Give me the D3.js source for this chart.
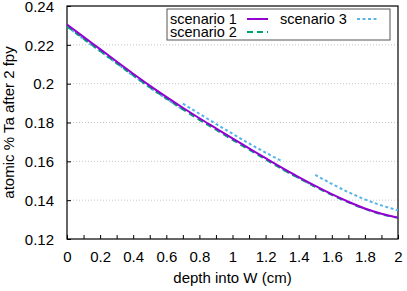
<!DOCTYPE html>
<html>
<head>
<meta charset="utf-8">
<script src="https://cdn.jsdelivr.net/npm/d3@7"></script>
<style>
  body { margin: 0; background: #fff; }
  text { font-family: "Liberation Sans", Arial, sans-serif; fill: #000; }
</style>
</head>
<body>
<svg width="407" height="291"></svg>
<script>
// depth into W (cm), sampled every 0.1
var depth = [0, 0.1, 0.2, 0.3, 0.4, 0.5, 0.6, 0.7, 0.8, 0.9, 1.0,
             1.1, 1.2, 1.3, 1.4, 1.5, 1.6, 1.7, 1.8, 1.9, 2.0];

var scenario1 = [0.2305, 0.2241, 0.2178, 0.2114, 0.2051, 0.1990, 0.1932, 0.1876, 0.1822, 0.1770, 0.1718,
                 0.1667, 0.1616, 0.1566, 0.1519, 0.1474, 0.1431, 0.1392, 0.1357, 0.1330, 0.1310];
var scenario2 = [0.2295, 0.2232, 0.2169, 0.2106, 0.2043, 0.1982, 0.1924, 0.1868, 0.1814, 0.1763, 0.1711,
                 0.1660, 0.1610, 0.1560, 0.1514, 0.1469, 0.1427, 0.1389, 0.1355, 0.1328, 0.1309];

// scenario 3 comes in separate pieces (null = break in the line)
var scenario3x = [0, 0.1, 0.2, 0.3, 0.4, 0.5, 0.6, 0.7, null,
                  0.7, 0.8, 0.9, 1.0, 1.1, 1.2, 1.3, null,
                  1.3, 1.4, 1.5, null,
                  1.5, 1.6, 1.7, 1.8, 1.9, 2.0];
var scenario3y = [0.2293, 0.2230, 0.2167, 0.2104, 0.2041, 0.1980, 0.1922, 0.1866, null,
                  0.1897, 0.1845, 0.1793, 0.1742, 0.1692, 0.1645, 0.1600, null,
                  0.1560, 0.1514, 0.1469, null,
                  0.1530, 0.1484, 0.1441, 0.1404, 0.1373, 0.1348];

var yTicks = [0.12, 0.14, 0.16, 0.18, 0.2, 0.22, 0.24];

var svg = d3.select("svg");
var mLeft = 67, mRight = 398, mTop = 6, mBottom = 239;

var x = d3.scaleLinear().domain([0, 2]).range([mLeft, mRight]);
var y = d3.scaleLinear().domain([0.12, 0.24]).range([mBottom, mTop]);

// horizontal grid
svg.selectAll(".grid")
  .data(yTicks.slice(1, -1))
  .enter().append("line")
    .attr("x1", mLeft).attr("x2", mRight)
    .attr("y1", function(d) { return y(d); })
    .attr("y2", function(d) { return y(d); })
    .style("stroke", "#c8c8c8")
    .style("stroke-width", 1)
    .style("stroke-dasharray", "1,2");

// bottom axis: ticks every 0.1, labels every 0.2
var xAxis = d3.axisBottom(x).tickValues(d3.range(0, 2.01, 0.1)).tickSize(-4)
  .tickFormat(function(d) {
    var r = Math.round(d * 10);
    return r % 2 === 0 ? d3.format("")(r / 10) : "";
  });
var gx = svg.append("g").attr("transform", "translate(0," + mBottom + ")").call(xAxis);
gx.select(".domain").remove();
gx.selectAll(".tick line").style("stroke", "#000");
gx.selectAll("text").attr("dy", "0").attr("y", 23).style("font-size", "15px")
  .style("font-family", "Liberation Sans, Arial, sans-serif");

var yAxis = d3.axisLeft(y).tickValues(yTicks).tickSize(-4)
  .tickFormat(d3.format(""));
var gy = svg.append("g").attr("transform", "translate(" + mLeft + ",0)").call(yAxis);
gy.select(".domain").remove();
gy.selectAll(".tick line").style("stroke", "#000");
gy.selectAll("text").attr("x", -13).attr("dy", "0.35em").style("font-size", "15px")
  .style("font-family", "Liberation Sans, Arial, sans-serif");

// frame
svg.append("rect")
  .attr("x", mLeft).attr("y", mTop)
  .attr("width", mRight - mLeft).attr("height", mBottom - mTop)
  .style("fill", "none").style("stroke", "#000").style("stroke-width", 1.2);

// curves
var line = d3.line()
  .defined(function(d) { return d[1] !== null; })
  .x(function(d) { return x(d[0]); })
  .y(function(d) { return y(d[1]); })
  .curve(d3.curveMonotoneX);

var series = [
  { name: "scenario 1", pts: d3.zip(depth, scenario1), color: "#9400d3", dash: null, w: 2 },
  { name: "scenario 2", pts: d3.zip(depth, scenario2), color: "#009e73", dash: "6,4", w: 2 },
  { name: "scenario 3", pts: d3.zip(scenario3x, scenario3y), color: "#56b4e9", dash: "3,2.5", w: 2 }
];

svg.selectAll(".curve")
  .data(series.slice().reverse())
  .enter().append("path")
    .attr("d", function(d) { return line(d.pts); })
    .style("fill", "none")
    .style("stroke", function(d) { return d.color; })
    .style("stroke-width", function(d) { return d.w; })
    .style("stroke-dasharray", function(d) { return d.dash; });

// legend
svg.append("rect")
  .attr("x", 167).attr("y", 9).attr("width", 223).attr("height", 31)
  .style("fill", "#fff").style("stroke", "#555").style("stroke-width", 1);

var legendPos = [
  { tx: 170, ly: 19, lx1: 247, lx2: 268 },
  { tx: 170, ly: 32, lx1: 247, lx2: 268 },
  { tx: 280, ly: 19, lx1: 357, lx2: 379 }
];
series.forEach(function(s, i) {
  var p = legendPos[i];
  svg.append("text")
    .attr("x", p.tx).attr("y", p.ly).attr("dy", "0.35em")
    .style("font-size", "14.5px")
    .text(s.name);
  svg.append("line")
    .attr("x1", p.lx1).attr("x2", p.lx2).attr("y1", p.ly).attr("y2", p.ly)
    .style("stroke", s.color).style("stroke-width", s.w)
    .style("stroke-dasharray", s.dash);
});

// axis titles
svg.append("text")
  .attr("x", (mLeft + mRight) / 2).attr("y", 283)
  .attr("text-anchor", "middle")
  .style("font-size", "15px")
  .text("depth into W (cm)");

svg.append("text")
  .attr("transform", "translate(14," + ((mTop + mBottom) / 2) + ") rotate(-90)")
  .attr("text-anchor", "middle")
  .style("font-size", "15px")
  .text("atomic % Ta after 2 fpy");
</script>
</body>
</html>
